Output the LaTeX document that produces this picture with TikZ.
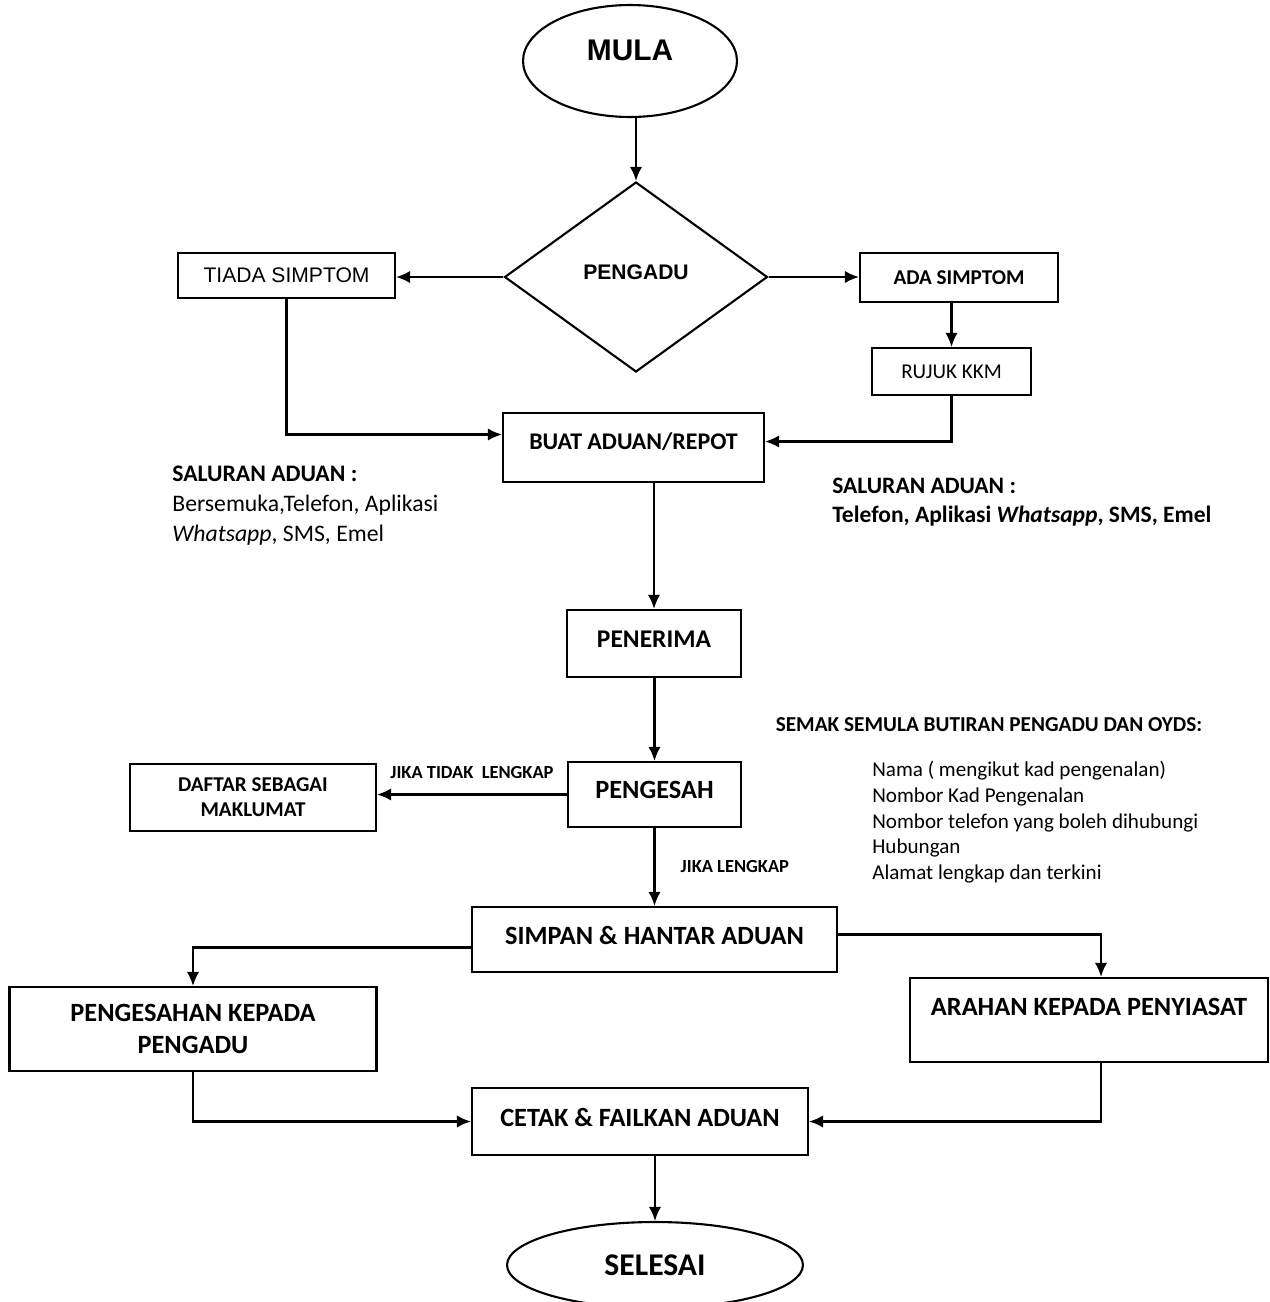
\documentclass[tikz,border=0pt]{standalone}
\usepackage{fontspec}
\setmainfont{Carlito}
\newfontfamily\arialfont{Liberation Sans}
\usetikzlibrary{shapes.geometric,calc,arrows.meta}

\begin{document}
\begin{tikzpicture}[
x=0.02cm,
y=-0.02cm,
box/.style={
  draw,
  rectangle,
  line width=1.2pt,
  inner sep=2pt,
  align=center,
  font=\bfseries\fontsize{15}{18}\selectfont
  },
term/.style={
  draw,
  ellipse,
  line width=1.2pt,
  inner sep=0pt
  },
choice/.style={
  draw,
  diamond,
  line width=1.2pt,
  inner sep=0pt
  },
note/.style={
  align=left,
  inner sep=0pt
  },
cond/.style={
  font=\bfseries\fontsize{10.5}{12}\selectfont
  },
link/.style={
  ->,
  line width=1.2pt
  },
>={Latex[length=8pt,width=7pt]}
]
\useasboundingbox (0,0) rectangle (1270,1302);

% flow nodes
\node[term, minimum width=4.28cm, minimum height=2.24cm, text depth=12pt,
  font=\arialfont\bfseries\fontsize{17}{20}\selectfont] (mula) at (630,61) {MULA};
\node[choice, minimum width=5.26cm, minimum height=3.8cm, text depth=6pt,
  font=\arialfont\bfseries\fontsize{12}{14}\selectfont] (pengadu) at (636,277) {PENGADU};
\node[box, minimum width=4.34cm, minimum height=0.9cm,
  font=\arialfont\fontsize{12}{14}\selectfont] (tiada) at (286.5,275.5) {TIADA SIMPTOM};
\node[box, minimum width=3.96cm, minimum height=0.98cm,
  font=\bfseries\fontsize{12}{14}\selectfont] (ada) at (959,277.5) {ADA SIMPTOM};
\node[box, minimum width=3.18cm, minimum height=0.94cm,
  font=\fontsize{12}{14}\selectfont] (rujuk) at (951.5,371.5) {RUJUK KKM};
\node[box, minimum width=5.22cm, minimum height=1.38cm, text depth=7pt,
  font=\bfseries\fontsize{13.6}{16}\selectfont] (buat) at (633.5,447.5) {BUAT ADUAN/REPOT};
\node[box, minimum width=3.48cm, minimum height=1.34cm, text depth=5pt,
  font=\bfseries\fontsize{14.5}{17}\selectfont] (penerima) at (654,643.5) {PENERIMA};
\node[box, minimum width=3.46cm, minimum height=1.3cm, text depth=5pt] (pengesah) at (654.5,794.5) {PENGESAH};
\node[box, minimum width=4.92cm, minimum height=1.34cm,
  font=\bfseries\fontsize{12}{14.2}\selectfont] (daftar) at (253,797.5) {DAFTAR SEBAGAI\\MAKLUMAT};
\node[box, minimum width=7.3cm, minimum height=1.3cm, text depth=5pt] (simpan) at (654.5,939.5) {SIMPAN \& HANTAR ADUAN};
\node[box, minimum width=7.34cm, minimum height=1.68cm] (pengesahan) at (193,1029) {PENGESAHAN KEPADA\\PENGADU};
\node[box, minimum width=7.16cm, minimum height=1.68cm, text depth=15pt] (arahan) at (1089,1020) {ARAHAN KEPADA PENYIASAT};
\node[box, minimum width=6.72cm, minimum height=1.34cm, text depth=5pt] (cetak) at (640,1121.5) {CETAK \& FAILKAN ADUAN};
\node[term, minimum width=5.92cm, minimum height=1.72cm,
  font=\bfseries\fontsize{18}{20}\selectfont] (selesai) at (655,1265) {SELESAI};

% notes
\node[note, anchor=north west, font=\fontsize{13.5}{17}\selectfont] (salkiri) at (172,466)
  {\textbf{SALURAN ADUAN :}\\Bersemuka,Telefon, Aplikasi\\\textit{Whatsapp}, SMS, Emel};
\node[note, anchor=north west, font=\bfseries\fontsize{13.4}{16.5}\selectfont] (salkanan) at (832,478)
  {SALURAN ADUAN :\\Telefon, Aplikasi \textit{Whatsapp}, SMS, Emel};
\node[note, font=\bfseries\fontsize{12.1}{14}\selectfont] (semak) at (989,725)
  {SEMAK SEMULA BUTIRAN PENGADU DAN OYDS:};
\node[note, anchor=north west, font=\fontsize{12}{14.6}\selectfont] (butiran) at (872,761)
  {Nama ( mengikut kad pengenalan)\\Nombor Kad Pengenalan\\Nombor telefon yang boleh dihubungi\\Hubungan\\Alamat lengkap dan terkini};

% connectors
\draw[link] (mula.south -| pengadu.north) -- (pengadu.north);
\draw[link] (pengadu.west) -- (pengadu.west -| tiada.east);
\draw[link] (pengadu.east) -- (pengadu.east -| ada.west);
\draw[link] (ada.south -| rujuk.north) -- (rujuk.north);
\draw[link] (tiada.south) |- ($(buat.west)+(0,-13)$);
\draw[link] (rujuk.south) |- ($(buat.east)+(0,-6)$);
\draw[link] (buat.south -| penerima.north) -- (penerima.north);
\draw[link] (penerima.south -| pengesah.north) -- (pengesah.north);
\draw[link] (pengesah.west) -- node[cond, above=5pt] {JIKA TIDAK\ \ LENGKAP} (pengesah.west -| daftar.east);
\draw[link] (pengesah.south -| simpan.north) -- node[cond, right=11pt] {JIKA LENGKAP} (simpan.north);
\draw[link] ($(simpan.west)+(0,8)$) -| (pengesahan.north);
\draw[link] ($(simpan.east)+(0,-5)$) -| ($(arahan.north)+(12,0)$);
\draw[link] (pengesahan.south) |- (cetak.west);
\draw[link] ($(arahan.south)+(12,0)$) |- (cetak.east);
\draw[link] (cetak.south -| selesai.north) -- (selesai.north);
\end{tikzpicture}
\end{document}
